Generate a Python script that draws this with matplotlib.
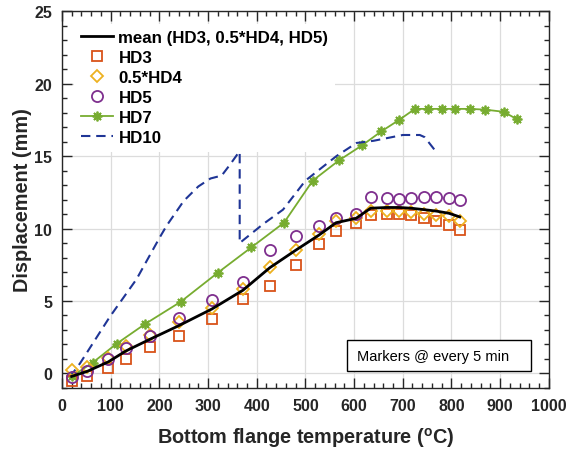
import numpy as np
import matplotlib
matplotlib.use('Agg')
import matplotlib.pyplot as plt
from matplotlib.ticker import MultipleLocator
from matplotlib.patches import Rectangle

plt.rcParams['font.family'] = ['Liberation Sans', 'DejaVu Sans']
plt.rcParams['font.weight'] = 'bold'
plt.rcParams['mathtext.fontset'] = 'custom'
plt.rcParams['mathtext.rm'] = 'Liberation Sans:bold'
plt.rcParams['mathtext.bf'] = 'Liberation Sans:bold'

# --- data ---
# temperature at 5-min marks for HD3 / HD4 / HD5 / mean
t_a = [20, 52, 95, 131, 180, 240, 308, 372, 427, 480, 528, 563, 604, 634,
       667, 692, 717, 744, 769, 795, 817]
hd3 = [-0.5, -0.2, 0.35, 1.0, 1.8, 2.6, 3.75, 5.15, 6.0, 7.5, 8.9, 9.85, 10.4,
       10.95, 11.0, 11.0, 10.9, 10.7, 10.5, 10.25, 9.9]
hd4_half = [0.25, 0.45, 1.1, 1.9, 2.65, 3.55, 4.55, 5.8, 7.35, 8.55, 9.6, 10.55,
            10.7, 11.2, 11.2, 11.2, 11.15, 11.0, 10.95, 10.85, 10.55]
hd5 = [-0.25, 0.2, 1.0, 1.75, 2.6, 3.85, 5.05, 6.3, 8.5, 9.45, 10.2, 10.7,
       11.0, 12.15, 12.1, 12.05, 12.1, 12.2, 12.2, 12.1, 11.95]
hd_mean = [-0.2, 0.15, 0.8, 1.55, 2.35, 3.3, 4.45, 5.75, 7.3, 8.5, 9.55, 10.4,
           10.7, 11.4, 11.45, 11.45, 11.4, 11.3, 11.2, 11.05, 10.8]

# HD7 has its own temperature record
t_hd7 = [20, 63, 112, 170, 244, 320, 389, 456, 515, 569, 617, 656, 693, 725,
         752, 780, 808, 838, 869, 907, 934]
hd7 = [-0.2, 0.75, 2.05, 3.4, 4.95, 6.95, 8.7, 10.4, 13.3, 14.7, 15.75, 16.7,
       17.5, 18.25, 18.25, 18.25, 18.25, 18.25, 18.2, 18.05, 17.55]

# HD10 trace
t_hd10 = [16, 37, 98, 153, 201, 215, 250, 280, 305, 328, 345, 362, 365, 365,
          413, 454, 500, 530, 564, 605, 640, 700, 735, 745, 766]
hd10 = [-0.25, 0.7, 3.9, 6.5, 9.4, 10.2, 11.9, 12.9, 13.45, 13.65, 14.4, 15.2,
        15.3, 9.0, 10.3, 11.3, 13.3, 14.1, 15.0, 15.9, 16.05, 16.45, 16.45,
        16.3, 15.4]

fig = plt.figure(figsize=(5.7, 4.52), dpi=100)
ax = fig.add_axes([0.1088, 0.1394, 0.854, 0.834])

ax.plot(t_a, hd_mean, '-', color='black', lw=2.0,
        label='mean (HD3, 0.5*HD4, HD5)', zorder=5)
ax.plot(t_a, hd3, 's', mfc='none', mec='#D95319', ms=6.8, mew=1.3,
        label='HD3', zorder=4)
ax.plot(t_a, hd4_half, 'D', mfc='none', mec='#EDB120', ms=6.2, mew=1.3,
        label='0.5*HD4', zorder=4)
ax.plot(t_a, hd5, 'o', mfc='none', mec='#7E2F8E', ms=8, mew=1.3,
        label='HD5', zorder=4)
ax.plot(t_hd7, hd7, '-', color='#77AC30', lw=1.3, marker=(8, 2, 0), ms=7,
        mew=1.3, label='HD7', zorder=3)
ax.plot(t_hd10, hd10, '--', color='#1F3596', lw=1.5, dashes=(4.5, 2.8),
        label='HD10', zorder=3)

ax.set_xlim(0, 1000)
ax.set_ylim(-1, 25)
ax.xaxis.set_major_locator(MultipleLocator(100))
ax.xaxis.set_minor_locator(MultipleLocator(20))
ax.yaxis.set_major_locator(MultipleLocator(5))
ax.yaxis.set_minor_locator(MultipleLocator(1))
ax.tick_params(which='both', direction='in', top=True, right=True,
               labelsize=11.5, colors='#262626')
ax.tick_params(which='major', length=7, width=1.0, pad=7)
ax.tick_params(which='minor', length=3.6, width=1.0)
for s in ax.spines.values():
    s.set_linewidth(1.0)
    s.set_color('#262626')
ax.grid(True, which='major', color='#dcdcdc', lw=0.9)
ax.set_axisbelow(True)

ax.set_xlabel(r'Bottom flange temperature ($^{\mathbf{o}}$C)', fontsize=14.3,
              fontweight='bold', color='#262626', labelpad=9)
ax.set_ylabel('Displacement (mm)', fontsize=14.3, fontweight='bold',
              color='#262626', labelpad=2)

leg = ax.legend(loc='upper left', bbox_to_anchor=(0.015, 0.98), frameon=True,
                fontsize=12.2, handlelength=1.9, handletextpad=0.3,
                labelspacing=0.29, borderaxespad=0.3, fancybox=False)
leg.get_frame().set_edgecolor('none')
leg.get_frame().set_facecolor('white')
leg.get_frame().set_alpha(1)
leg.set_zorder(10)

# annotation box
ax.add_patch(Rectangle((0.585, 0.045), 0.378, 0.082, transform=ax.transAxes,
                       fc='white', ec='black', lw=1.0, zorder=11))
ax.text(0.607, 0.086, 'Markers @ every 5 min', transform=ax.transAxes,
        fontsize=10.5, fontweight='normal', color='black', va='center',
        ha='left', zorder=12)

fig.savefig('out.png', dpi=100)
